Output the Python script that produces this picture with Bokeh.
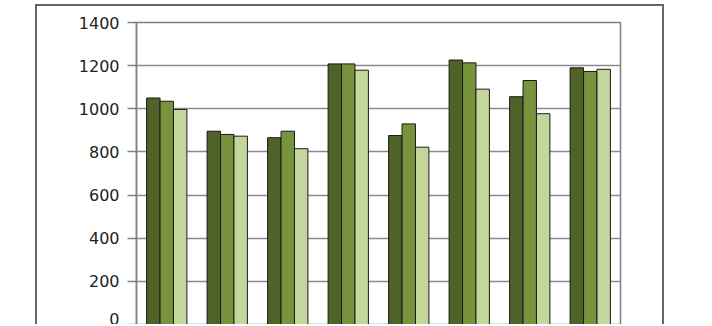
from bokeh.plotting import figure
from bokeh.models import FixedTicker, FactorRange, ColumnDataSource
from bokeh.transform import dodge
from bokeh.embed import file_html
from bokeh.resources import INLINE

categories = ["1", "2", "3", "4", "5", "6", "7", "8"]
series_names = ["Series 1", "Series 2", "Series 3"]
series_1 = [1050, 896, 866, 1208, 876, 1226, 1056, 1190]
series_2 = [1035, 881, 896, 1208, 930, 1213, 1131, 1173]
series_3 = [997, 873, 815, 1179, 822, 1091, 977, 1183]
y_ticks = [0, 200, 400, 600, 800, 1000, 1200, 1400]
colors = ["#4F6228", "#77933C", "#C3D69B"]

source = ColumnDataSource(dict(cat=categories, s1=series_1, s2=series_2, s3=series_3))

p = figure(
    x_range=FactorRange(*categories, range_padding=0),
    y_range=(0, 1400),
    width=629, height=320,
    output_backend="svg", toolbar_location=None,
    min_border_left=99, min_border_right=46,
    min_border_top=16, min_border_bottom=2,
    margin=(4, 0, 0, 35),
)
p.styles = {
    "border-top": "2px solid #666666",
    "border-left": "2px solid #666666",
    "border-right": "2px solid #666666",
}

w = 0.222
for col, off, c, name in zip(["s1", "s2", "s3"], [-w, 0, w], colors, series_names):
    p.vbar(x=dodge("cat", off, range=p.x_range), top=col, width=w, bottom=0,
           source=source, fill_color=c, line_color="#1a1a1a", line_width=1,
           legend_label=None or name)

p.legend.visible = False
p.xaxis.visible = False
p.xgrid.grid_line_color = None
p.ygrid.grid_line_color = "#8a8a8a"
p.ygrid.grid_line_width = 1.5
p.yaxis.ticker = FixedTicker(ticks=y_ticks)
p.yaxis.axis_line_color = "#808080"
p.yaxis.axis_line_width = 1.5
p.yaxis.major_tick_line_color = "#808080"
p.yaxis.major_tick_line_width = 1.5
p.yaxis.major_tick_out = 9
p.yaxis.major_tick_in = 0
p.yaxis.minor_tick_line_color = None
p.yaxis.major_label_standoff = 8
p.yaxis.major_label_text_font = "DejaVu Sans"
p.yaxis.major_label_text_font_size = "16px"
p.yaxis.major_label_text_color = "#222222"
p.outline_line_color = "#808080"
p.outline_line_width = 1.5
p.background_fill_color = "white"

open("out.html", "w").write(file_html(p, INLINE))
